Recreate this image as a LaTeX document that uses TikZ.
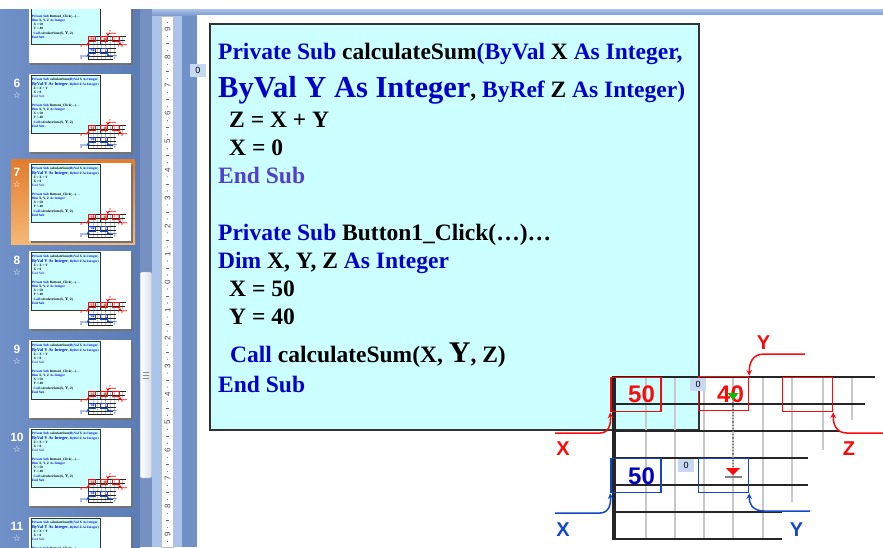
\documentclass[tikz,border=0pt]{standalone}
\usepackage{fontspec}
\setmainfont{Liberation Serif}
\setsansfont{Liberation Sans}
\newfontfamily\symfont{DejaVu Sans}
\usetikzlibrary{arrows,positioning}

\definecolor{kwblue}{RGB}{0,0,205}
\definecolor{endblue}{RGB}{80,64,205}
\definecolor{codecyan}{RGB}{204,255,255}
\definecolor{vbred}{RGB}{250,10,10}
\definecolor{vbblue}{RGB}{20,70,200}
\definecolor{numblue}{RGB}{0,0,190}
\definecolor{cellgray}{RGB}{200,200,200}
\definecolor{tagblue}{RGB}{198,217,241}
\definecolor{paneleft}{RGB}{112,144,200}
\definecolor{paneright}{RGB}{92,124,182}
\definecolor{workblue}{RGB}{112,145,200}
\definecolor{lightstrip}{RGB}{170,196,234}
\definecolor{thumbgray}{RGB}{214,222,236}
\definecolor{selorange}{RGB}{226,124,44}
\definecolor{sellight}{RGB}{246,184,118}

\def\lwf{1}
\newcommand{\kw}[1]{\textcolor{kwblue}{#1}}
\newcommand{\slidebody}{%
\fill[codecyan] (210,24) rectangle (699,430);
\draw[black!80,line width=\lwf*1.2pt] (210,24) rectangle (699,430);
\node[codeline] (L1) at (218,59) {\kw{Private Sub} calculateSum\kw{(ByVal} X \kw{As Integer,}};
\node[codeline] (L2) at (218,97) {{\fontsize{30.5}{34}\selectfont\kw{ByVal Y As Integer}}, \kw{ByRef} Z \kw{As Integer)}};
\node[codeline] (L3) at (229,127) {Z = X + Y};
\node[codeline] (L4) at (229,155) {X = 0};
\node[codeline,text=endblue] (L5) at (218,183) {End Sub};
\node[codeline] (L6) at (218,240) {\kw{Private Sub} Button1\_Click(…)…};
\node[codeline] (L7) at (218,268) {\kw{Dim} X, Y, Z \kw{As Integer}};
\node[codeline] (L8) at (229,296) {X = 50};
\node[codeline] (L9) at (229,324) {Y = 40};
\node[codeline] (L10) at (230,362) {\kw{Call} calculateSum(X, {\fontsize{30}{34}\selectfont Y}, Z)};
\node[codeline,text=kwblue] (L11) at (218,392) {End Sub};
% memory cells
\foreach \x/\b in {646/539,675/539,704/539,733/539,763/539,792/502,823/450,852/420}
\draw[gridv] (\x,377) -- (\x,\b);
\foreach \y/\e in {404/865,431/840,458/808,485/808,512/782,539/782}
\draw[cell] (614,\y) -- (\e,\y);
\draw[cell,line width=\lwf*2.2pt] (613,377) -- (875,377);
\draw[cell,line width=\lwf*3.2pt] (614,376) -- (614,540);
\node[rbox] (XR) at (636,394.5) {};
\node[rbox] (YR) at (723.5,393.5) {};
\node[rbox] (ZR) at (807.5,394.5) {};
\node[bbox] (XB) at (636,475.5) {};
\node[bbox] (YB) at (723.5,475.5) {};
\node[rnum] (XRV) at (641.5,394.5) {50};
\node[rnum] (YRV) at (730.5,394.5) {40};
\node[bnum] (XBV) at (641.5,476) {50};
\node[rlab] (XRL) at (563,449) {X};
\node[rlab] (YRL) at (763.5,343) {Y};
\node[rlab] (ZRL) at (849,449) {Z};
\node[blab] (XBL) at (563,529.5) {X};
\node[blab] (YBL) at (796.5,529.5) {Y};
\coordinate (XRS) at (555,433);
\coordinate (YRS) at (805,354);
\coordinate (ZRS) at (883,433);
\coordinate (XBS) at (555,513);
\coordinate (YBS) at (810,511);
\draw[rarr] (XRS) -- (600,433) .. controls (609,433) and (611,424) .. (XR.south west);
\draw[rarr] (YRS) -- (764,354) .. controls (752,354) and (749,364) .. (YR.north east);
\draw[rarr] (ZRS) -- (847,433) .. controls (836,433) and (833,424) .. (ZR.south east);
\draw[barr] (XBS) -- (600,513) .. controls (609,513) and (611,504) .. (XB.south west);
\draw[barr] (YBS) -- (764,511) .. controls (752,511) and (749,503) .. (YB.south east);
% copy of the value
\coordinate (CP1) at (733,399);
\coordinate (CP2) at (733,468);
\draw[gray,dotted,line width=\lwf*1.2pt] (CP1) -- (CP2);
\fill[green!75!black] (727.5,393) -- (738.5,393) -- (733,400) -- cycle;
\fill[vbred] (726,468) -- (740,468) -- (733,475) -- cycle;
\draw[gray,line width=\lwf*1.2pt] (725,477) -- (742,477);
}

\begin{document}
\begin{tikzpicture}[x=1pt,y=-1pt,
codeline/.style={anchor=base west,inner sep=0pt,font=\fontsize{23.5}{26}\selectfont\bfseries},
rbox/.style={draw=vbred,line width=\lwf*1.6pt,inner sep=0pt,minimum width=50pt,minimum height=34pt},
bbox/.style={rbox,draw=vbblue},
rnum/.style={inner sep=0pt,text=vbred,font=\sffamily\bfseries\fontsize{24}{24}\selectfont},
bnum/.style={rnum,text=numblue},
rlab/.style={inner sep=0pt,text=vbred,font=\sffamily\bfseries\fontsize{20}{20}\selectfont},
blab/.style={rlab,text=vbblue},
rarr/.style={draw=vbred,line width=\lwf*1.5pt,-stealth},
barr/.style={rarr,draw=vbblue},
cell/.style={draw=black!85,line width=\lwf*1.3pt},
gridv/.style={draw=cellgray,line width=\lwf*1.6pt},
tag/.style={fill=tagblue,inner sep=0pt,minimum width=16pt,minimum height=13pt,font=\sffamily\fontsize{9}{9}\selectfont},
slidenum/.style={text=white,font=\sffamily\bfseries\fontsize{12}{12}\selectfont},
rulernum/.style={rotate=90,inner sep=0pt,text=black!70,font=\sffamily\fontsize{8}{8}\selectfont}]
\useasboundingbox (0,0) rectangle (883,547);
\clip (0,0) rectangle (883,547);
\fill[white] (0,0) rectangle (883,547);
% slide pane
\shade[left color=paneleft,right color=paneright] (0,9) rectangle (140,547);
\shade[top color=selorange,bottom color=sellight] (11,159) rectangle (135,244);
\begin{scope}
\clip (0,9) rectangle (140,547);
\foreach \n/\ty in {5/-15,6/74,7/163,8/251,9/340,10/428,11/517}{
\fill[black!55] (30.5,\ty+1.5) rectangle (132.5,\ty+79.5);
\fill[white] (29,\ty) rectangle (131,\ty+78);
\begin{scope}
\clip (29,\ty) rectangle (131,\ty+78);
\begin{scope}[shift={(29,\ty)},scale=0.143,shift={(-197,-16)},transform shape]
\def\lwf{0.5}
\slidebody
\end{scope}
\end{scope}
\node[slidenum] (N\n) at (17,\ty+9) {\n};
\node[text=white,inner sep=0pt,font=\symfont\fontsize{9}{9}\selectfont] (S\n) at (17,\ty+21) {☆};
}
\end{scope}
% scroll bar
\fill[paneright!85!white] (140,9) rectangle (152,547);
\shade[left color=white,right color=thumbgray,draw=black!35,rounded corners=1pt] (140.5,272) rectangle (151.5,478);
\foreach \g in {372,375,378}
\draw[black!45,line width=0.6pt] (143,\g) -- (149,\g);
% ruler and work area
\fill[lightstrip] (152,9) rectangle (883,547);
\fill[workblue] (182,15) rectangle (197,547);
\shade[top color=lightstrip,bottom color=workblue!90] (152,9) rectangle (883,15);
\fill[white,draw=black!25] (161,16) rectangle (173,547);
\begin{scope}
\clip (161,16) rectangle (173,547);
\foreach \k in {-9,...,9}{
\pgfmathtruncatemacro\m{abs(\k)}
\node[rulernum] (R\k) at (167.5,282+28.05*\k) {\m};
}
\foreach \k in {-10,...,9}{
\fill[black!60] (167.5,282+28.05*\k+7) circle (0.55);
\draw[black!60,line width=0.6pt] (166,282+28.05*\k+14) -- (169,282+28.05*\k+14);
\fill[black!60] (167.5,282+28.05*\k+21) circle (0.55);
}
\end{scope}
% slide
\fill[white] (197,15) rectangle (883,547);
\slidebody
\node[tag] (T1) at (198,70.5) {0};
\node[tag] (T2) at (698,384) {0};
\node[tag] (T3) at (686,465) {0};
\end{tikzpicture}
\end{document}
